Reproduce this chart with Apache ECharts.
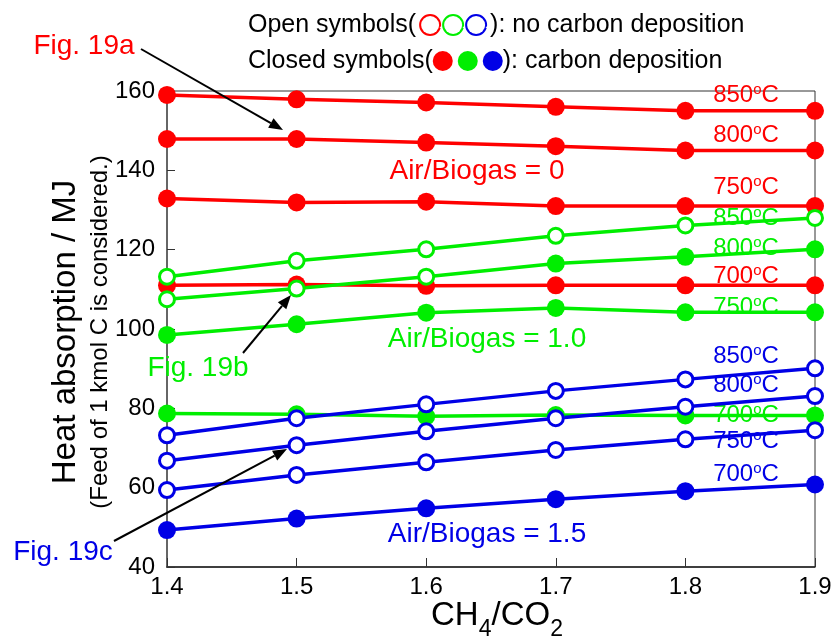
<!DOCTYPE html>
<html><head><meta charset="utf-8">
<script src="https://cdn.jsdelivr.net/npm/echarts/dist/echarts.min.js"></script>
<style>html,body{margin:0;padding:0;background:#fff}#c{width:836px;height:637px}</style>
</head><body><div id="c"></div>
<script>
// ---- data ----
const ch4co2 = [1.4, 1.5, 1.6, 1.7, 1.8, 1.9];
const yTicks = [40, 60, 80, 100, 120, 140, 160];
// Air/Biogas = 0 (red)
const red850 = [159.0, 157.9, 157.1, 156.0, 155.0, 155.0];
const red800 = [147.9, 147.9, 147.0, 146.1, 145.0, 145.0];
const red750 = [132.9, 131.9, 132.1, 131.0, 131.0, 131.0];
const red700 = [111.0, 111.2, 110.9, 111.0, 111.0, 111.0];
// Air/Biogas = 1.0 (green)
const green850 = [113.2, 117.2, 120.1, 123.5, 126.1, 128.0];
const green800 = [107.5, 110.2, 113.2, 116.5, 118.2, 120.1];
const green750 = [98.5, 101.2, 104.1, 105.3, 104.2, 104.2];
const green700 = [78.7, 78.5, 78.0, 78.3, 78.2, 78.2];
// Air/Biogas = 1.5 (blue)
const blue850 = [73.2, 77.5, 81.0, 84.4, 87.3, 90.1];
const blue800 = [66.8, 70.7, 74.2, 77.5, 80.4, 83.1];
const blue750 = [59.4, 63.2, 66.4, 69.5, 72.2, 74.5];
const blue700 = [49.3, 52.2, 54.8, 57.1, 59.1, 60.8];
// open symbol flags (true = no carbon deposition)
const allOpen = [true, true, true, true, true, true];
const allClosed = [false, false, false, false, false, false];
const green800Open = [true, true, true, false, false, false];

const RED = '#ff0000', GREEN = '#00ee00', BLUE = '#0000e6';
const FONT = '"Liberation Sans", Arial, Helvetica, sans-serif';

const lines = [
  {name: '0-850', color: RED, values: red850, open: allClosed},
  {name: '0-800', color: RED, values: red800, open: allClosed},
  {name: '0-750', color: RED, values: red750, open: allClosed},
  {name: '0-700', color: RED, values: red700, open: allClosed},
  {name: '1.0-850', color: GREEN, values: green850, open: allOpen},
  {name: '1.0-800', color: GREEN, values: green800, open: green800Open},
  {name: '1.0-750', color: GREEN, values: green750, open: allClosed},
  {name: '1.0-700', color: GREEN, values: green700, open: allClosed},
  {name: '1.5-850', color: BLUE, values: blue850, open: allOpen},
  {name: '1.5-800', color: BLUE, values: blue800, open: allOpen},
  {name: '1.5-750', color: BLUE, values: blue750, open: allOpen},
  {name: '1.5-700', color: BLUE, values: blue700, open: allClosed}
];

const series = lines.map(l => ({
  type: 'line', name: l.name, symbol: 'circle', z: 3,
  color: l.color,
  lineStyle: {color: l.color, width: 3.5},
  data: l.values.map((v, i) => l.open[i]
    ? {value: [ch4co2[i], v], symbolSize: 15, itemStyle: {color: '#fff', borderColor: l.color, borderWidth: 3}}
    : {value: [ch4co2[i], v], symbolSize: 18, itemStyle: {color: l.color, borderWidth: 0}})
}));

// temperature labels
function tempText(t) { return '{n|' + t + '}{s|o}{n|C}'; }
function tempRich(color) {
  return {
    n: {fontSize: 24, fontFamily: FONT, fill: color, lineHeight: 26},
    s: {fontSize: 15, fontFamily: FONT, fill: color, lineHeight: 15, verticalAlign: 'top'}
  };
}
const tempLabels = [
  ['850', RED, 95], ['800', RED, 135], ['750', RED, 187], ['700', RED, 276],
  ['850', GREEN, 218], ['800', GREEN, 248], ['750', GREEN, 307], ['700', GREEN, 415],
  ['850', BLUE, 356], ['800', BLUE, 385], ['750', BLUE, 441], ['700', BLUE, 474]
];

const graphics = [];
tempLabels.forEach(t => graphics.push({
  type: 'text', x: 746, y: t[2], z: 1,
  style: {text: tempText(t[0]), rich: tempRich(t[1]), align: 'center', verticalAlign: 'middle'}
}));

function txt(x, y, s, color, size, extra) {
  return Object.assign({type: 'text', x: x, y: y, z: 5,
    style: {text: s, fill: color, fontSize: size, fontFamily: FONT, align: 'center', verticalAlign: 'middle'}}, extra || {});
}
graphics.push(txt(477, 171, 'Air/Biogas = 0', RED, 28));
graphics.push(txt(487, 339, 'Air/Biogas = 1.0', GREEN, 28));
graphics.push(txt(487, 534, 'Air/Biogas = 1.5', BLUE, 28));
graphics.push(txt(84, 46, 'Fig. 19a', RED, 28));
graphics.push(txt(198, 368, 'Fig. 19b', GREEN, 28));
graphics.push(txt(63, 552, 'Fig. 19c', BLUE, 28));

function arrow(x1, y1, x2, y2) {
  const a = Math.atan2(y2 - y1, x2 - x1), L = 14, W = 5.5;
  const bx = x2 - L * Math.cos(a), by = y2 - L * Math.sin(a);
  graphics.push({type: 'line', z: 6, shape: {x1: x1, y1: y1, x2: bx, y2: by}, style: {stroke: '#000', lineWidth: 2}});
  graphics.push({type: 'polygon', z: 6, shape: {points: [[x2, y2], [bx + W * Math.sin(a), by - W * Math.cos(a)], [bx - W * Math.sin(a), by + W * Math.cos(a)]]}, style: {fill: '#000'}});
}
arrow(141, 49, 283, 130);
arrow(243, 353, 291, 295);
arrow(114, 541, 287, 449);

// axis titles
graphics.push(txt(66, 332, 'Heat absorption / MJ', '#000', 33, {rotation: Math.PI / 2}));
graphics.push(txt(100, 332, '(Feed of 1 kmol C is considered.)', '#000', 24, {rotation: Math.PI / 2}));
graphics.push({type: 'text', x: 497, y: 616, z: 5, style: {
  text: '{a|CH}{b|4}{a|/CO}{b|2}', align: 'center', verticalAlign: 'middle',
  rich: {a: {fontSize: 33, fontFamily: FONT, fill: '#000', lineHeight: 34},
         b: {fontSize: 23, fontFamily: FONT, fill: '#000', lineHeight: 23, verticalAlign: 'bottom', padding: [0, 0, -8, 0]}}
}});

// symbol legend note
function circ(color, filled) {
  return {width: filled ? 20 : 18, height: filled ? 20 : 18, borderRadius: 10, borderColor: color, borderWidth: filled ? 0 : 2,
          backgroundColor: filled ? color : '#fff', fontSize: 1};
}
const legRich = {
  t: {fontSize: 25, fontFamily: FONT, fill: '#000', lineHeight: 26},
  sp: {width: 5, fontSize: 10, fill: '#fff'},
  ro: circ(RED, false), go: circ(GREEN, false), bo: circ(BLUE, false),
  rc: circ(RED, true), gc: circ(GREEN, true), bc: circ(BLUE, true)
};
graphics.push({type: 'text', x: 248, y: 25, z: 5, style: {
  text: '{t|Open symbols(}{sp|.}{ro| }{sp|.}{go| }{sp|.}{bo| }{sp|.}{t|): no carbon deposition}',
  rich: legRich, align: 'left', verticalAlign: 'middle'}});
graphics.push({type: 'text', x: 248, y: 61, z: 5, style: {
  text: '{t|Closed symbols(}{rc| }{sp|.}{gc| }{sp|.}{bc| }{t|): carbon deposition}',
  rich: legRich, align: 'left', verticalAlign: 'middle'}});

const chart = echarts.init(document.getElementById('c'), null, {renderer: 'canvas'});
chart.setOption({
  animation: false,
  backgroundColor: '#fff',
  grid: {left: 167, right: 21, top: 91, bottom: 70, show: true, borderColor: '#333', borderWidth: 1},
  xAxis: {
    type: 'value', min: 1.4, max: 1.9, interval: 0.1,
    axisLine: {show: true, lineStyle: {color: '#222', width: 1.5}},
    axisTick: {show: true, inside: true, length: 9, lineStyle: {color: '#333', width: 1}},
    axisLabel: {color: '#000', fontSize: 24, fontFamily: FONT, margin: 8, formatter: v => v.toFixed(1)},
    splitLine: {show: false}
  },
  yAxis: {
    type: 'value', min: yTicks[0], max: yTicks[yTicks.length - 1], interval: 20,
    axisLine: {show: true, lineStyle: {color: '#666', width: 2}},
    axisTick: {show: true, inside: true, length: 8, lineStyle: {color: '#333', width: 1}},
    axisLabel: {color: '#000', fontSize: 24, fontFamily: FONT, margin: 12},
    splitLine: {show: false}
  },
  series: series,
  graphic: graphics
});
</script></body></html>
